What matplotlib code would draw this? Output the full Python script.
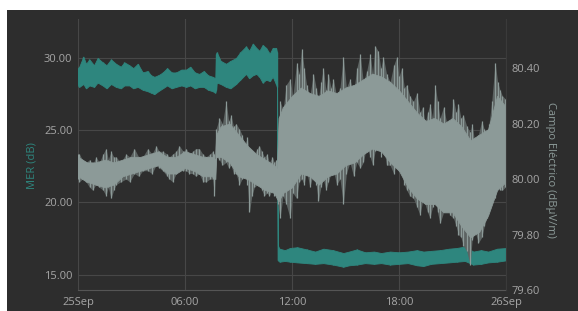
import matplotlib
matplotlib.use("Agg")
import matplotlib.pyplot as plt
from matplotlib.patches import Rectangle

# ---- data (hours since 25 Sep 00:00) ----
mer_h = [0.0, 0.07, 0.3, 0.45, 0.64, 0.9, 1.1, 1.38, 1.6, 1.85, 2.13, 2.4, 2.6, 2.88, 3.1, 3.35, 3.63,
         3.9, 4.1, 4.28, 4.5, 4.75, 5.0, 5.25, 5.5, 5.8, 6.06, 6.3, 6.55, 6.8, 7.05, 7.3, 7.55, 7.7,
         7.74, 7.78, 8.0, 8.3, 8.55, 8.86, 9.1, 9.42, 9.6, 9.8, 10.0, 10.17, 10.35, 10.55, 10.75,
         10.92, 11.1, 11.16, 11.2, 11.3, 11.6, 11.89, 12.3, 12.82, 13.3, 13.76, 14.3, 14.88, 15.2,
         15.63, 16.1, 16.6, 17.0, 17.5, 18.0, 18.5, 19.0, 19.37, 19.8, 20.3, 20.8, 21.24, 21.7,
         22.17, 22.6, 23.0, 23.5, 24.04]
mer_hi = [29.3, 29.4, 30.1, 29.6, 29.9, 29.5, 30.0, 29.7, 29.5, 29.9, 29.6, 29.4, 29.7, 29.5, 29.3,
          29.6, 29.0, 29.1, 28.8, 28.7, 28.8, 29.0, 29.3, 29.0, 29.0, 29.2, 29.2, 29.4, 29.0, 28.9,
          29.1, 28.8, 28.7, 28.6, 30.3, 30.4, 29.8, 29.6, 29.8, 30.0, 30.4, 30.8, 30.5, 31.0, 30.7,
          30.5, 30.9, 30.7, 30.3, 30.7, 30.7, 30.4, 17.0, 16.8, 16.7, 16.85, 16.9, 16.75, 16.6,
          16.8, 16.7, 16.5, 16.6, 16.75, 16.55, 16.6, 16.5, 16.6, 16.55, 16.6, 16.7, 16.6, 16.65,
          16.7, 16.8, 16.85, 16.95, 16.6, 16.7, 16.6, 16.8, 16.85]
mer_lo = [28.1, 28.0, 28.2, 27.9, 28.1, 28.0, 28.3, 28.1, 27.9, 28.2, 28.0, 27.9, 28.1, 28.1, 27.9,
          28.0, 27.8, 27.7, 27.6, 27.5, 27.7, 27.9, 28.1, 27.9, 28.0, 28.1, 28.0, 28.1, 27.9, 28.0,
          28.0, 27.8, 27.7, 27.6, 27.8, 28.3, 28.2, 28.0, 27.9, 28.2, 28.5, 28.9, 28.6, 28.8, 28.9,
          28.7, 28.3, 28.5, 28.4, 28.7, 28.2, 28.0, 16.0, 15.9, 15.95, 15.9, 15.85, 15.8, 15.75,
          15.8, 15.7, 15.55, 15.65, 15.7, 15.8, 15.75, 15.8, 15.7, 15.75, 15.8, 15.65, 15.6, 15.75,
          15.8, 15.85, 15.9, 15.95, 15.7, 15.75, 15.85, 15.9, 16.0]

# Campo Eléctrico: per-sample min/max (spikes) ...
ef_h = [0.0, 0.07, 0.25, 0.45, 0.65, 0.82, 1.0, 1.2, 1.4, 1.57, 1.7, 1.85, 2.0, 2.13, 2.4, 2.69, 2.9,
        3.16, 3.4, 3.63, 3.91, 4.15, 4.38, 4.55, 4.75, 5.0, 5.12, 5.31, 5.5, 5.68, 5.9, 6.06, 6.25,
        6.43, 6.6, 6.8, 7.0, 7.18, 7.4, 7.55, 7.65, 7.74, 7.93, 8.1, 8.3, 8.45, 8.58, 8.72, 8.86,
        9.05, 9.2, 9.33, 9.5, 9.61, 9.75, 9.89, 10.05, 10.17, 10.3, 10.45, 10.6, 10.73, 10.9,
        11.01, 11.12, 11.2, 11.33, 11.5, 11.67, 11.89, 12.05, 12.26, 12.4, 12.54, 12.68, 12.82,
        13.0, 13.2, 13.35, 13.48, 13.62, 13.76, 13.9, 14.04, 14.18, 14.32, 14.5, 14.69, 14.88,
        15.05, 15.25, 15.45, 15.63, 15.82, 16.0, 16.19, 16.38, 16.52, 16.66, 16.84, 16.98, 17.12,
        17.3, 17.5, 17.7, 17.87, 18.0, 18.15, 18.3, 18.43, 18.6, 18.81, 19.0, 19.18, 19.32, 19.46,
        19.6, 19.74, 19.88, 20.02, 20.16, 20.3, 20.5, 20.68, 20.85, 21.05, 21.2, 21.33, 21.47,
        21.61, 21.8, 21.99, 22.1, 22.27, 22.45, 22.64, 22.78, 22.92, 23.05, 23.2, 23.39, 23.53,
        23.67, 23.8, 23.95, 24.0]
ef_hi = [80.09, 80.09, 80.07, 80.06, 80.07, 80.05, 80.08, 80.06, 80.09, 80.11, 80.07, 80.10, 80.08,
         80.08, 80.06, 80.09, 80.08, 80.11, 80.08, 80.08, 80.11, 80.09, 80.12, 80.10, 80.10, 80.09,
         80.08, 80.09, 80.10, 80.12, 80.10, 80.11, 80.09, 80.10, 80.11, 80.11, 80.09, 80.08, 80.09,
         80.10, 80.09, 80.18, 80.22, 80.20, 80.28, 80.21, 80.23, 80.19, 80.20, 80.18, 80.16, 80.12,
         80.15, 80.08, 80.10, 80.09, 80.11, 80.12, 80.10, 80.08, 80.09, 80.06, 80.08, 80.06, 80.07,
         80.03, 80.28, 80.25, 80.34, 80.36, 80.30, 80.42, 80.38, 80.47, 80.40, 80.34, 80.30, 80.38,
         80.33, 80.29, 80.35, 80.40, 80.32, 80.38, 80.33, 80.36, 80.30, 80.33, 80.44, 80.33, 80.36,
         80.31, 80.40, 80.45, 80.35, 80.39, 80.45, 80.38, 80.48, 80.46, 80.40, 80.44, 80.38, 80.35,
         80.41, 80.44, 80.37, 80.40, 80.33, 80.34, 80.30, 80.28, 80.31, 80.24, 80.26, 80.20, 80.24,
         80.27, 80.22, 80.34, 80.28, 80.22, 80.26, 80.20, 80.18, 80.29, 80.24, 80.27, 80.22, 80.23,
         80.19, 80.17, 80.20, 80.12, 80.16, 80.21, 80.18, 80.16, 80.20, 80.28, 80.42, 80.35, 80.32,
         80.30, 80.29, 80.28]
ef_lo = [80.00, 79.99, 80.00, 79.99, 79.97, 79.96, 79.98, 79.97, 79.96, 79.94, 79.97, 79.93, 79.96,
         79.98, 79.99, 80.00, 79.99, 80.02, 80.01, 80.03, 80.03, 80.02, 80.05, 80.04, 80.03, 80.01,
         80.00, 79.99, 80.02, 80.05, 80.03, 80.03, 80.02, 80.02, 80.01, 80.02, 79.99, 79.99, 80.00,
         80.00, 79.94, 80.08, 80.07, 80.05, 80.06, 80.04, 80.05, 80.02, 80.02, 79.98, 80.00, 80.03,
         79.98, 79.88, 79.94, 79.97, 79.98, 79.99, 79.96, 79.94, 79.95, 79.94, 79.96, 79.94, 79.95,
         79.91, 79.86, 79.94, 79.91, 79.86, 79.95, 79.93, 79.99, 80.00, 79.98, 80.03, 79.97, 80.02,
         79.98, 79.92, 79.97, 80.00, 79.96, 79.99, 80.02, 80.03, 79.98, 80.00, 79.91, 80.02, 80.06,
         80.01, 80.06, 80.04, 80.06, 80.12, 80.08, 80.05, 80.10, 80.19, 80.08, 80.12, 80.05, 80.05,
         80.02, 80.06, 80.03, 80.02, 79.98, 79.96, 79.94, 79.93, 79.90, 79.87, 79.92, 79.91, 79.88,
         79.86, 79.90, 79.93, 79.88, 79.84, 79.88, 79.91, 79.87, 79.86, 79.83, 79.80, 79.79, 79.76,
         79.74, 79.69, 79.78, 79.81, 79.77, 79.79, 79.83, 79.86, 79.91, 79.98, 79.93, 80.02, 79.96,
         79.96, 79.97, 79.98]
# ... and its dense central body
efc_h = [0, 0.5, 1, 1.5, 2, 2.5, 3, 3.5, 4, 4.5, 5, 5.5, 6, 6.5, 7, 7.5, 7.7, 7.75, 8, 8.5, 9, 9.5,
         10, 10.5, 11, 11.15, 11.25, 11.5, 12, 12.5, 13, 13.5, 14, 14.5, 15, 15.5, 16, 16.5, 17,
         17.5, 18, 18.5, 19, 19.5, 20, 20.5, 21, 21.5, 22, 22.5, 23, 23.5, 24]
efc_hi = [80.08, 80.06, 80.06, 80.07, 80.06, 80.07, 80.08, 80.08, 80.09, 80.10, 80.08, 80.08, 80.10,
          80.09, 80.08, 80.08, 80.07, 80.16, 80.19, 80.20, 80.16, 80.12, 80.09, 80.07, 80.05, 80.04,
          80.22, 80.26, 80.30, 80.33, 80.31, 80.30, 80.32, 80.31, 80.33, 80.34, 80.36, 80.38, 80.37,
          80.35, 80.32, 80.28, 80.24, 80.21, 80.22, 80.20, 80.22, 80.19, 80.14, 80.16, 80.18, 80.30,
          80.26]
efc_lo = [80.01, 79.99, 79.98, 79.97, 79.98, 80.01, 80.02, 80.03, 80.04, 80.05, 80.02, 80.02, 80.04,
          80.03, 80.01, 80.01, 80.00, 80.08, 80.08, 80.06, 80.01, 80.00, 79.98, 79.96, 79.95, 79.93,
          79.92, 79.95, 79.97, 80.02, 80.01, 79.98, 80.01, 80.02, 80.05, 80.06, 80.09, 80.11, 80.10,
          80.06, 80.03, 79.97, 79.93, 79.91, 79.91, 79.88, 79.88, 79.83, 79.79, 79.81, 79.87, 79.96,
          79.99]

xticks = [0, 6, 12, 18, 24]
xlabels = ["25Sep", "06:00", "12:00", "18:00", "26Sep"]
mer_ticks = [15, 20, 25, 30]
ef_ticks = [79.6, 79.8, 80.0, 80.2, 80.4]

# ---- style ----
BG = "#2d2d2d"
TEAL = "#2e867e"
GRAY = "#8c9a98"
GRAY_MID = "#5c6362"
TXT = "#a6a6a6"
GRID = "#474747"
plt.rcParams['font.family'] = ['Open Sans', 'DejaVu Sans']

W, H = 578, 311
fig = plt.figure(figsize=(W / 100, H / 100), dpi=100)
fig.patch.set_facecolor("white")
fig.patches.append(Rectangle((7 / W, 0), 1 - 7 / W, 1 - 10 / H, transform=fig.transFigure,
                             facecolor=BG, edgecolor="none", zorder=-10))

ax = fig.add_axes([78 / W, 1 - 290 / H, (506 - 78) / W, (290 - 19) / H])
ax.set_facecolor(BG)
ax.fill_between(mer_h, mer_lo, mer_hi, color=TEAL, linewidth=0.6, edgecolor=TEAL)
ax.vlines(mer_h, mer_lo, mer_hi, color=TEAL, linewidth=1.0)
ax.set_xlim(0, 24)
ax.set_ylim(13.94, 32.7)
ax.set_xticks(xticks)
ax.set_xticklabels(xlabels)
ax.set_yticks(mer_ticks)
ax.set_yticklabels([f"{v:.2f}" for v in mer_ticks])
ax.grid(True, color=GRID, linewidth=0.8)
ax.set_axisbelow(True)
ax.tick_params(length=0, colors=TXT, labelsize=8, pad=4)
ax.tick_params(axis="x", pad=5)
for s in ["top", "left", "right"]:
    ax.spines[s].set_visible(False)
ax.spines["bottom"].set_color("#555555")
ax.set_ylabel("MER (dB)", color=TEAL, fontsize=8)
ax.yaxis.set_label_coords(-0.107, 0.461)
ax.yaxis.label.set_verticalalignment("center")

ax2 = ax.twinx()
ax2.fill_between(ef_h, ef_lo, ef_hi, color=GRAY_MID, linewidth=0)
ax2.fill_between(efc_h, efc_lo, efc_hi, color=GRAY, linewidth=0.6, edgecolor=GRAY)
ax2.vlines(ef_h, ef_lo, ef_hi, color=GRAY, linewidth=0.9)
ax2.set_ylim(79.6, 80.577)
ax2.set_yticks(ef_ticks)
ax2.set_yticklabels([f"{v:.2f}" for v in ef_ticks])
ax2.tick_params(length=0, colors=TXT, labelsize=8, pad=4)
for s in ["top", "left", "bottom"]:
    ax2.spines[s].set_visible(False)
ax2.spines["right"].set_color("#3a3a3a")
ax2.set_ylabel("Campo Eléctrico (dBµV/m)", color=GRAY, fontsize=8, rotation=270)
ax2.yaxis.set_label_coords(1.103, 0.443)
ax2.yaxis.label.set_verticalalignment("center")

fig.savefig("out.png", dpi=100, facecolor="white")
